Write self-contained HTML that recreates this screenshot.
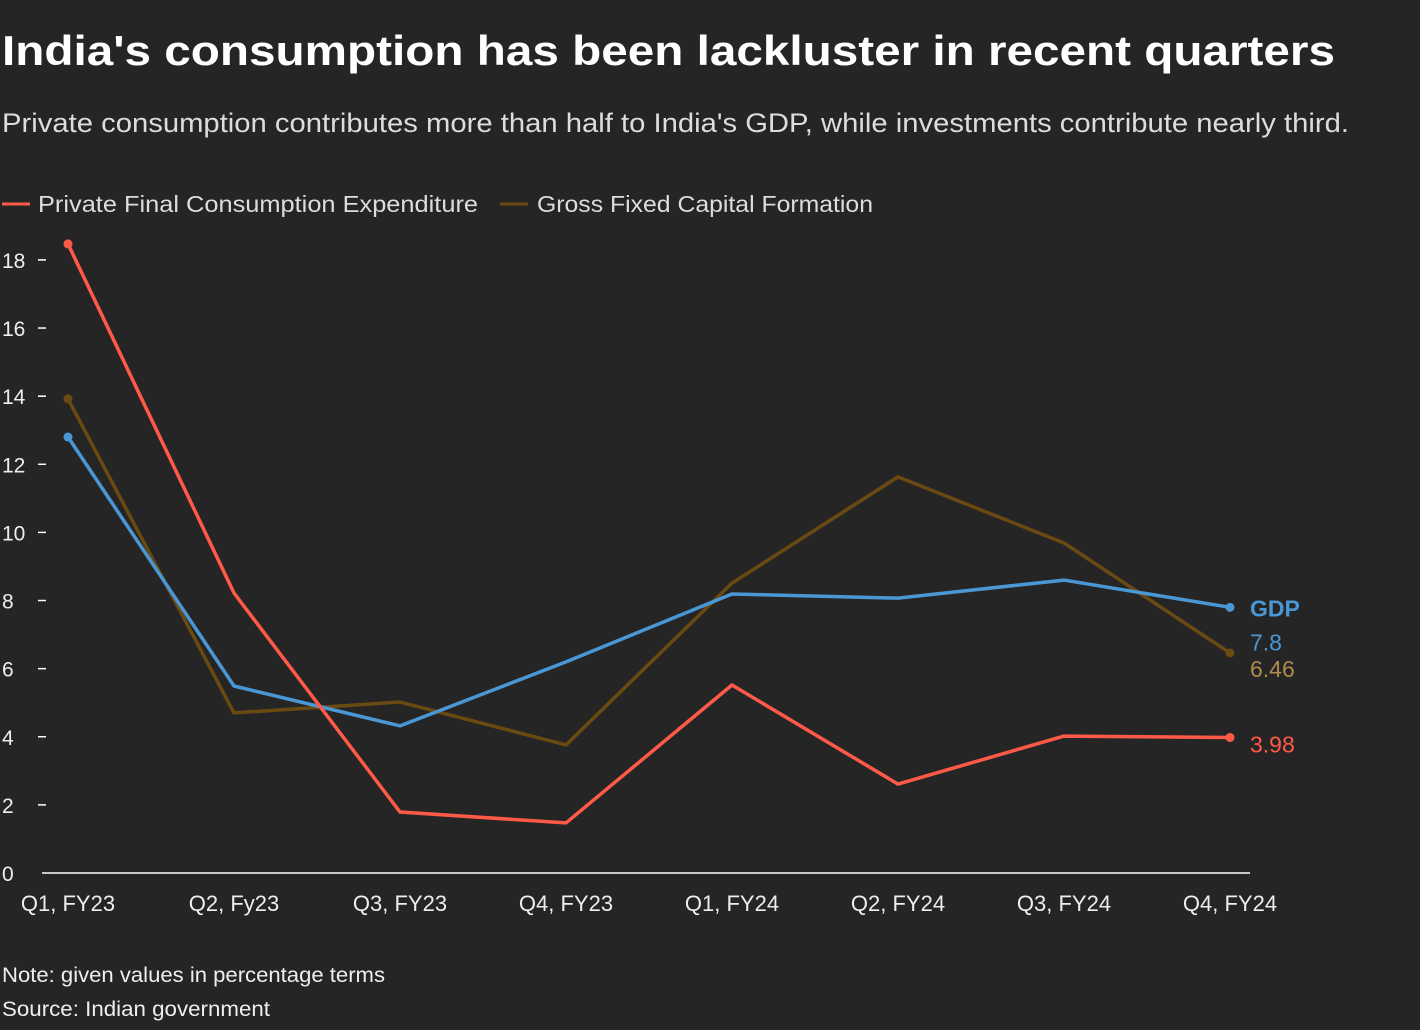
<!DOCTYPE html>
<html><head><meta charset="utf-8"><style>
html,body{margin:0;padding:0;background:#252525;}
svg{display:block;font-family:"Liberation Sans",sans-serif;}
</style></head><body>
<svg id="chart" width="1420" height="1030" xmlns="http://www.w3.org/2000/svg">
<rect width="1420" height="1030" fill="#252525"/>
<text x="2" y="65" font-size="42" font-weight="bold" fill="#fff" textLength="1333" lengthAdjust="spacingAndGlyphs">India's consumption has been lackluster in recent quarters</text>
<text x="2" y="132" font-size="27" fill="#ddd" textLength="1347" lengthAdjust="spacingAndGlyphs">Private consumption contributes more than half to India's GDP, while investments contribute nearly third.</text>
<g>
<line x1="2" y1="204" x2="30" y2="204" stroke="#ff5a47" stroke-width="3"/>
<text x="38" y="212" font-size="23" fill="#ddd" textLength="440" lengthAdjust="spacingAndGlyphs">Private Final Consumption Expenditure</text>
<line x1="500" y1="204" x2="528" y2="204" stroke="#6b4a12" stroke-width="3"/>
<text x="537" y="212" font-size="23" fill="#ddd" textLength="336" lengthAdjust="spacingAndGlyphs">Gross Fixed Capital Formation</text>
</g>
<g id="axes"></g>
<g id="series"></g>
<text x="2" y="982" font-size="21" fill="#eee" textLength="383" lengthAdjust="spacingAndGlyphs">Note: given values in percentage terms</text>
<text x="2" y="1016" font-size="21" fill="#eee" textLength="268" lengthAdjust="spacingAndGlyphs">Source: Indian government</text>
</svg>
<script>
const categories = ["Q1, FY23","Q2, Fy23","Q3, FY23","Q4, FY23","Q1, FY24","Q2, FY24","Q3, FY24","Q4, FY24"];
const pfce = [18.47, 8.22, 1.79, 1.47, 5.52, 2.61, 4.02, 3.98];
const gfcf = [13.92, 4.70, 5.02, 3.76, 8.51, 11.63, 9.69, 6.46];
const gdp = [12.8, 5.49, 4.32, 6.2, 8.19, 8.07, 8.6, 7.8];
const yTicks = [0,2,4,6,8,10,12,14,16,18];

const NS="http://www.w3.org/2000/svg";
const xS = i => 68 + i*166;
const yS = v => 873 - v*34.06;
function mk(tag, attrs, parent){const e=document.createElementNS(NS,tag);for(const k in attrs)e.setAttribute(k,attrs[k]);parent.appendChild(e);return e;}
const axes=document.getElementById('axes'), series=document.getElementById('series');

const base=mk('line',{x1:42,x2:1250,y1:873,y2:873,stroke:'#fff','stroke-width':1.5},axes);


yTicks.forEach(t=>{
  const y=yS(t);
  if(t>0){const tk=mk('line',{x1:38,x2:46,y1:y,y2:y,stroke:'#fff','stroke-width':1.5},axes);
  
  }
  const tx=mk('text',{x:2,y:y+8,'font-size':21,fill:'#eee'},axes);
  
  
  tx.textContent=t;
});
categories.forEach((c,i)=>{
  const tx=mk('text',{x:xS(i),y:911,'font-size':22,fill:'#eee','text-anchor':'middle'},axes);
  
  
  tx.textContent=c;
});
function drawLine(vals,color,name){
  const p=mk('polyline',{points:vals.map((v,i)=>xS(i)+','+yS(v)).join(' '),fill:'none',stroke:color,'stroke-width':3.5,'stroke-linejoin':'round'},series);
  
  
  [0,vals.length-1].forEach(i=>{
    const c=mk('circle',{cx:xS(i),cy:yS(vals[i]),r:4.5,fill:color},series);
    
    
  });
}
drawLine(gfcf,'#6b4a12','gfcf');
drawLine(gdp,'#4a97d6','gdp');
drawLine(pfce,'#ff5a47','pfce');

const last=categories.length-1, lx=1250;
let t=mk('text',{x:lx,y:yS(gdp[last])+9,'font-size':23,'font-weight':'bold',fill:'#4a97d6'},series);


t.textContent='GDP';
t=mk('text',{x:lx,y:yS(gdp[last])+43,'font-size':23,fill:'#4a97d6'},series);


t.textContent=gdp[last];
t=mk('text',{x:lx,y:yS(gfcf[last])+24,'font-size':23,fill:'#b08a4a'},series);


t.textContent=gfcf[last];
t=mk('text',{x:lx,y:yS(pfce[last])+15,'font-size':23,fill:'#ff5a47'},series);


t.textContent=pfce[last];
</script>
</body></html>
